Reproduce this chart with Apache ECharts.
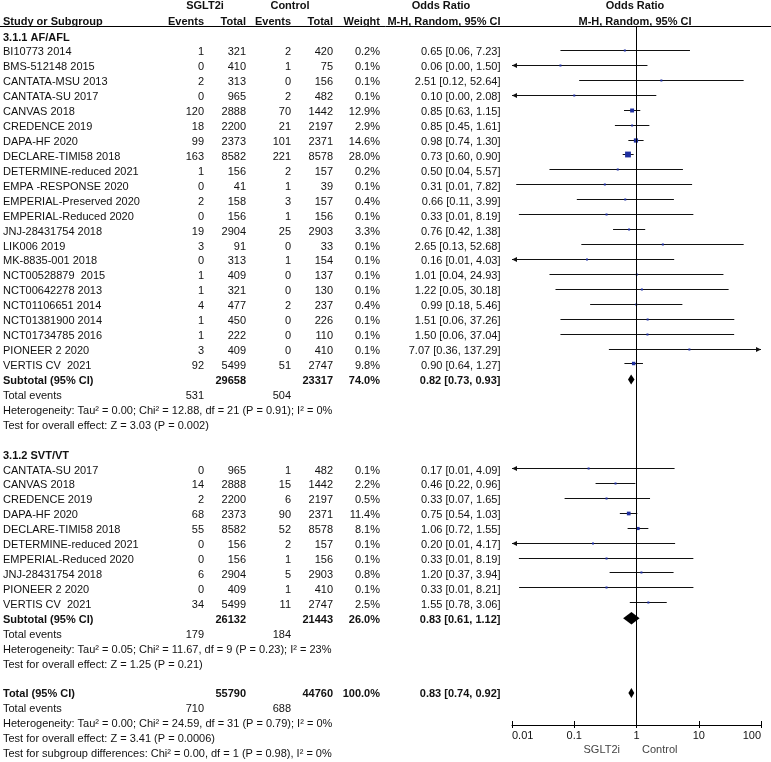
<!DOCTYPE html>
<html>
<head>
<meta charset="utf-8">
<script src="https://cdn.jsdelivr.net/npm/echarts@6/dist/echarts.min.js"></script>
<style>html,body{margin:0;padding:0;background:#fff}#c{width:771px;height:762px}</style>
</head>
<body>
<div id="c"></div>
<script>
// ---------- DATA ----------
const afStudies = ["BI10773 2014","BMS-512148 2015","CANTATA-MSU 2013","CANTATA-SU 2017","CANVAS 2018","CREDENCE 2019","DAPA-HF 2020","DECLARE-TIMI58 2018","DETERMINE-reduced 2021","EMPA -RESPONSE 2020","EMPERIAL-Preserved 2020","EMPERIAL-Reduced 2020","JNJ-28431754 2018","LIK006 2019","MK-8835-001 2018","NCT00528879  2015","NCT00642278 2013","NCT01106651 2014","NCT01381900 2014","NCT01734785 2016","PIONEER 2 2020","VERTIS CV  2021"];
const afSgltEvents = [1,0,2,0,120,18,99,163,1,0,2,0,19,3,0,1,1,4,1,1,3,92];
const afSgltTotal = [321,410,313,965,2888,2200,2373,8582,156,41,158,156,2904,91,313,409,321,477,450,222,409,5499];
const afCtrlEvents = [2,1,0,2,70,21,101,221,2,1,3,1,25,0,1,0,0,2,0,0,0,51];
const afCtrlTotal = [420,75,156,482,1442,2197,2371,8578,157,39,157,156,2903,33,154,137,130,237,226,110,410,2747];
const afWeight = [0.2,0.1,0.1,0.1,12.9,2.9,14.6,28.0,0.2,0.1,0.4,0.1,3.3,0.1,0.1,0.1,0.1,0.4,0.1,0.1,0.1,9.8];
const afOR = [0.65,0.06,2.51,0.10,0.85,0.85,0.98,0.73,0.50,0.31,0.66,0.33,0.76,2.65,0.16,1.01,1.22,0.99,1.51,1.50,7.07,0.90];
const afLo = [0.06,0.004,0.12,0.004,0.63,0.45,0.74,0.60,0.04,0.0117,0.11,0.0129,0.42,0.13,0.006,0.04,0.05,0.18,0.06,0.06,0.36,0.64];
const afHi = [7.23,1.50,52.64,2.08,1.15,1.61,1.30,0.90,5.57,7.82,3.99,8.19,1.38,52.68,4.03,24.93,30.18,5.46,37.26,37.04,137.29,1.27];

const svtStudies = ["CANTATA-SU 2017","CANVAS 2018","CREDENCE 2019","DAPA-HF 2020","DECLARE-TIMI58 2018","DETERMINE-reduced 2021","EMPERIAL-Reduced 2020","JNJ-28431754 2018","PIONEER 2 2020","VERTIS CV  2021"];
const svtSgltEvents = [0,14,2,68,55,0,0,6,0,34];
const svtSgltTotal = [965,2888,2200,2373,8582,156,156,2904,409,5499];
const svtCtrlEvents = [1,15,6,90,52,2,1,5,1,11];
const svtCtrlTotal = [482,1442,2197,2371,8578,157,156,2903,410,2747];
const svtWeight = [0.1,2.2,0.5,11.4,8.1,0.1,0.1,0.8,0.1,2.5];
const svtOR = [0.17,0.46,0.33,0.75,1.06,0.20,0.33,1.20,0.33,1.55];
const svtLo = [0.006,0.22,0.07,0.54,0.72,0.007,0.0129,0.37,0.013,0.78];
const svtHi = [4.09,0.96,1.65,1.03,1.55,4.17,8.19,3.94,8.21,3.06];

const pooledLabels = ["Subtotal (95% CI)","Subtotal (95% CI)","Total (95% CI)"];
const pooledSgltTotal = [29658,26132,55790];
const pooledCtrlTotal = [23317,21443,44760];
const pooledWeight = [74.0,26.0,100.0];
const pooledOR = [0.82,0.83,0.83];
const pooledLo = [0.73,0.61,0.74];
const pooledHi = [0.93,1.12,0.92];
const pooledSgltEvents = [531,179,710];
const pooledCtrlEvents = [504,184,688];
const heterogeneity = [
  "Heterogeneity: Tau\u00b2 = 0.00; Chi\u00b2 = 12.88, df = 21 (P = 0.91); I\u00b2 = 0%",
  "Heterogeneity: Tau\u00b2 = 0.05; Chi\u00b2 = 11.67, df = 9 (P = 0.23); I\u00b2 = 23%",
  "Heterogeneity: Tau\u00b2 = 0.00; Chi\u00b2 = 24.59, df = 31 (P = 0.79); I\u00b2 = 0%"
];
const overallEffect = [
  "Test for overall effect: Z = 3.03 (P = 0.002)",
  "Test for overall effect: Z = 1.25 (P = 0.21)",
  "Test for overall effect: Z = 3.41 (P = 0.0006)"
];
const subgroupTest = "Test for subgroup differences: Chi\u00b2 = 0.00, df = 1 (P = 0.98), I\u00b2 = 0%";
const groupTitles = ["3.1.1 AF/AFL","3.1.2 SVT/VT"];
const xTicks = [0.01,0.1,1,10,100];
const favourLabels = ["SGLT2i","Control"];

// ---------- LAYOUT ----------
const FONT = '"Liberation Sans", Arial, sans-serif';
const afStart = 1, afSubRow = 23, svtTitleRow = 28, svtStart = 29, svtSubRow = 39, totRow = 44;
const cols = {name:3, sE:204, sT:246, cE:291, cT:333, w:380, ci:500.5};

const texts = [];
function T(row, x, text, align, bold, color){ texts.push({row, x, text:String(text), align:align||'right', bold:!!bold, color:color||'#111'}); }
function ciText(o,l,h){ return o.toFixed(2)+' ['+l.toFixed(2)+', '+h.toFixed(2)+']'; }

// header
T(-2.1, 205, 'SGLT2i', 'center', true);
T(-2.1, 290, 'Control', 'center', true);
T(-2.1, 441, 'Odds Ratio', 'center', true);
T(-2.1, 635, 'Odds Ratio', 'center', true);
T(-1.05, cols.name, 'Study or Subgroup', 'left', true);
T(-1.05, cols.sE, 'Events', 'right', true);
T(-1.05, cols.sT, 'Total', 'right', true);
T(-1.05, cols.cE, 'Events', 'right', true);
T(-1.05, cols.cT, 'Total', 'right', true);
T(-1.05, cols.w, 'Weight', 'right', true);
T(-1.05, cols.ci, 'M-H, Random, 95% CI', 'right', true);
T(-1.05, 635, 'M-H, Random, 95% CI', 'center', true);

function studyRows(start, names, se, st, ce, ct, w, o, l, h){
  names.forEach((n,i)=>{
    const r = start+i;
    T(r, cols.name, n, 'left');
    T(r, cols.sE, se[i]); T(r, cols.sT, st[i]);
    T(r, cols.cE, ce[i]); T(r, cols.cT, ct[i]);
    T(r, cols.w, w[i].toFixed(1)+'%');
    T(r, cols.ci, ciText(o[i], l[i], h[i]));
  });
}
T(0, cols.name, groupTitles[0], 'left', true);
studyRows(afStart, afStudies, afSgltEvents, afSgltTotal, afCtrlEvents, afCtrlTotal, afWeight, afOR, afLo, afHi);
T(svtTitleRow, cols.name, groupTitles[1], 'left', true);
studyRows(svtStart, svtStudies, svtSgltEvents, svtSgltTotal, svtCtrlEvents, svtCtrlTotal, svtWeight, svtOR, svtLo, svtHi);

const pooledRows = [afSubRow, svtSubRow, totRow];
pooledRows.forEach((r,k)=>{
  T(r, cols.name, pooledLabels[k], 'left', true);
  T(r, cols.sT, pooledSgltTotal[k], 'right', true);
  T(r, cols.cT, pooledCtrlTotal[k], 'right', true);
  T(r, cols.w, pooledWeight[k].toFixed(1)+'%', 'right', true);
  T(r, cols.ci, ciText(pooledOR[k], pooledLo[k], pooledHi[k]), 'right', true);
  T(r+1, cols.name, 'Total events', 'left');
  T(r+1, cols.sE, pooledSgltEvents[k]);
  T(r+1, cols.cE, pooledCtrlEvents[k]);
  T(r+2, cols.name, heterogeneity[k], 'left');
  T(r+3, cols.name, overallEffect[k], 'left');
});
T(totRow+4, cols.name, subgroupTest, 'left');

// study marks
const studyData = [];
afOR.forEach((o,i)=>studyData.push([o, afStart+i, afLo[i], afHi[i], afWeight[i]]));
svtOR.forEach((o,i)=>studyData.push([o, svtStart+i, svtLo[i], svtHi[i], svtWeight[i]]));
const pooledData = pooledOR.map((o,k)=>[o, pooledRows[k], pooledLo[k], pooledHi[k]]);

const XMIN = xTicks[0], XMAX = xTicks[xTicks.length-1];
const ROW0 = 37.5, ROWH = 14.93, GTOP = 27, GBOT = 725;
const GH = GBOT - GTOP;

const chart = echarts.init(document.getElementById('c'), null, {renderer:'canvas'});
chart.setOption({
  animation:false,
  backgroundColor:'#fff',
  grid:{left:512, right:10, top:GTOP, bottom:762-GBOT, containLabel:false},
  xAxis:[
    {type:'log', logBase:10, min:XMIN, max:XMAX, position:'bottom',
     axisLine:{show:true, onZero:false, lineStyle:{color:'#000', width:1}},
     axisTick:{show:true, inside:false, length:3, lineStyle:{color:'#000'}},
     axisLabel:{show:true, color:'#111', fontFamily:FONT, fontSize:11, margin:5,
       alignMinLabel:'left', alignMaxLabel:'right', formatter:v=>String(+v.toPrecision(3))},
     splitLine:{show:false}},
    {type:'log', logBase:10, min:XMIN, max:XMAX, position:'top', offset:-GH,
     axisLine:{show:false, onZero:false}, axisTick:{show:true, inside:false, length:4, lineStyle:{color:'#000'}},
     axisLabel:{show:false}, splitLine:{show:false}}
  ],
  yAxis:{type:'value', inverse:true, min:(GTOP-ROW0)/ROWH, max:(GBOT-ROW0)/ROWH, show:false},
  graphic:[
    {type:'line', shape:{x1:0,y1:26.5,x2:771,y2:26.5}, style:{stroke:'#000', lineWidth:1}},
    {type:'text', x:620, y:750, style:{text:favourLabels[0], align:'right', verticalAlign:'middle', font:'11px '+FONT, fill:'#444'}},
    {type:'text', x:642, y:750, style:{text:favourLabels[1], align:'left', verticalAlign:'middle', font:'11px '+FONT, fill:'#444'}}
  ],
  series:[
    {type:'custom', silent:true, clip:false,
     data: studyData,
     encode:{x:0, y:1},
     renderItem:(params, api)=>{
       const o = api.value(0), r = api.value(1), lo = api.value(2), hi = api.value(3), w = api.value(4);
       const y = Math.round(api.coord([o, r])[1] - 2.5) + 0.5;
       const xo = api.coord([o, r])[0];
       const xl = api.coord([Math.max(lo, XMIN), r])[0];
       const xh = api.coord([Math.min(hi, XMAX), r])[0];
       const ch = [{type:'line', shape:{x1:xl, y1:y, x2:xh, y2:y}, style:{stroke:'#111', lineWidth:1}}];
       if (lo < XMIN) ch.push({type:'polygon', shape:{points:[[xl,y],[xl+5,y-2.5],[xl+5,y+2.5]]}, style:{fill:'#111'}});
       if (hi > XMAX) ch.push({type:'polygon', shape:{points:[[xh,y],[xh-5,y-2.5],[xh-5,y+2.5]]}, style:{fill:'#111'}});
       const s = Math.max(2, 1.1*Math.sqrt(w));
       ch.push({type:'rect', shape:{x:xo-s/2, y:y-s/2, width:s, height:s}, style:{fill:'#1f2fa0'}});
       return {type:'group', children:ch};
     }},
    {type:'custom', silent:true, clip:false,
     data: pooledData,
     encode:{x:0, y:1},
     renderItem:(params, api)=>{
       const o = api.value(0), r = api.value(1), lo = api.value(2), hi = api.value(3);
       const y = api.coord([o, r])[1] - 1.5;
       const hh = params.dataIndex === 1 ? 6.2 : 5;
       const xo = api.coord([o, r])[0], xl = api.coord([lo, r])[0], xh = api.coord([hi, r])[0];
       return {type:'polygon', shape:{points:[[xl,y],[xo,y-hh],[xh,y],[xo,y+hh]]}, style:{fill:'#000'}};
     }},
    {type:'custom', silent:true, clip:false,
     data: texts.map(t=>[1, t.row]),
     encode:{x:0, y:1},
     renderItem:(params, api)=>{
       const t = texts[params.dataIndex];
       const y = api.coord([1, t.row])[1];
       return {type:'text', x:t.x, y:y, style:{text:t.text, align:t.align, verticalAlign:'middle',
         font:(t.bold?'bold ':'')+'11px '+FONT, fill:t.color}};
     },
     markLine:{silent:true, symbol:'none', label:{show:false}, animation:false,
       lineStyle:{color:'#000', width:1, type:'solid'}, data:[{xAxis:1}]}}
  ]
});
</script>
</body>
</html>
